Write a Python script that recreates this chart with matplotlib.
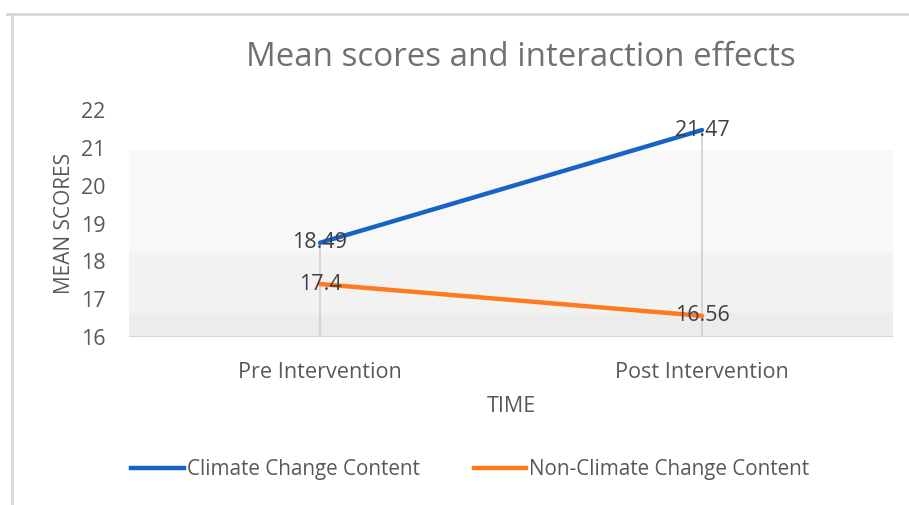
import matplotlib
matplotlib.use("Agg")
import matplotlib.pyplot as plt
from matplotlib.lines import Line2D

plt.rcParams['font.family'] = ['Open Sans', 'DejaVu Sans']

categories = ["Pre Intervention", "Post Intervention"]
series_names = ["Climate Change Content", "Non-Climate Change Content"]
climate = [18.49, 21.47]
non_climate = [17.4, 16.56]
yticks = [16, 17, 18, 19, 20, 21, 22]
title = "Mean scores and interaction effects"
xlabel = "TIME"
ylabel = "MEAN SCORES"

blue = "#1764C8"
orange = "#FF7A1F"
text_gray = "#595959"

fig = plt.figure(figsize=(9.09, 5.05), dpi=100)
fig.patch.set_facecolor("white")

# outer frame lines (top and left)
fig.add_artist(Line2D([7/909, 1.0], [1-14/505, 1-14/505], color="#d6d6d6", lw=2, transform=fig.transFigure))
fig.add_artist(Line2D([12/909, 12/909], [1-14/505, 0], color="#d6d6d6", lw=2, transform=fig.transFigure))

ax = fig.add_axes([129/909, 1-337/505, 764/909, 227/505])
ax.set_xlim(-0.5, 1.5)
ax.set_ylim(16, 22)

# background bands
ax.axhspan(18.22, 20.95, color="#f8f8f8", lw=0, zorder=0)
ax.axhspan(16.63, 18.22, color="#f2f2f2", lw=0, zorder=0)
ax.axhspan(16.0, 16.63, color="#ececec", lw=0, zorder=0)

x = list(range(len(categories)))
# drop lines
for xi, a, b in zip(x, climate, non_climate):
    ax.plot([xi, xi], [16, max(a, b)], color="#d0d0d0", lw=1.2, zorder=1)

ax.plot(x, climate, color=blue, lw=3.2, solid_capstyle="round", zorder=3, label=series_names[0])
ax.plot(x, non_climate, color=orange, lw=3.2, solid_capstyle="round", zorder=3, label=series_names[1])

for xi, v in zip(x, climate):
    ax.text(xi, v, f"{v:g}", ha="center", va="center", fontsize=15.5, color="#404040", zorder=4)
for xi, v in zip(x, non_climate):
    ax.text(xi, v, f"{v:g}", ha="center", va="center", fontsize=15.5, color="#404040", zorder=4)

ax.axhline(16, color="#d4d4d4", lw=2, zorder=2)

for s in ax.spines.values():
    s.set_visible(False)
ax.set_facecolor("none")
ax.set_yticks(yticks)
ax.set_yticklabels([str(t) for t in yticks], fontsize=15.5, color=text_gray)
ax.set_xticks(x)
ax.set_xticklabels(categories, fontsize=15.6, color=text_gray)
ax.tick_params(axis="both", length=0)
ax.tick_params(axis="y", pad=17)
ax.tick_params(axis="x", pad=18)

ax.set_xlabel(xlabel, fontsize=15.5, color=text_gray, labelpad=9)
ax.set_ylabel(ylabel, fontsize=15, color=text_gray, labelpad=4)

fig.text(521/909, 1-58/505, title, ha="center", va="center", fontsize=23.8, color="#707070")

handles = [Line2D([], [], color=blue, lw=3.2), Line2D([], [], color=orange, lw=3.2)]
fig.legend(handles, series_names, loc="center left", bbox_to_anchor=(131/909, 1-470/505),
           ncol=2, frameon=False, fontsize=14.9, labelcolor=text_gray,
           handlelength=2.55, handletextpad=0.15, columnspacing=2.6, borderaxespad=0, borderpad=0)

fig.savefig("out.png", dpi=100, facecolor="white")
